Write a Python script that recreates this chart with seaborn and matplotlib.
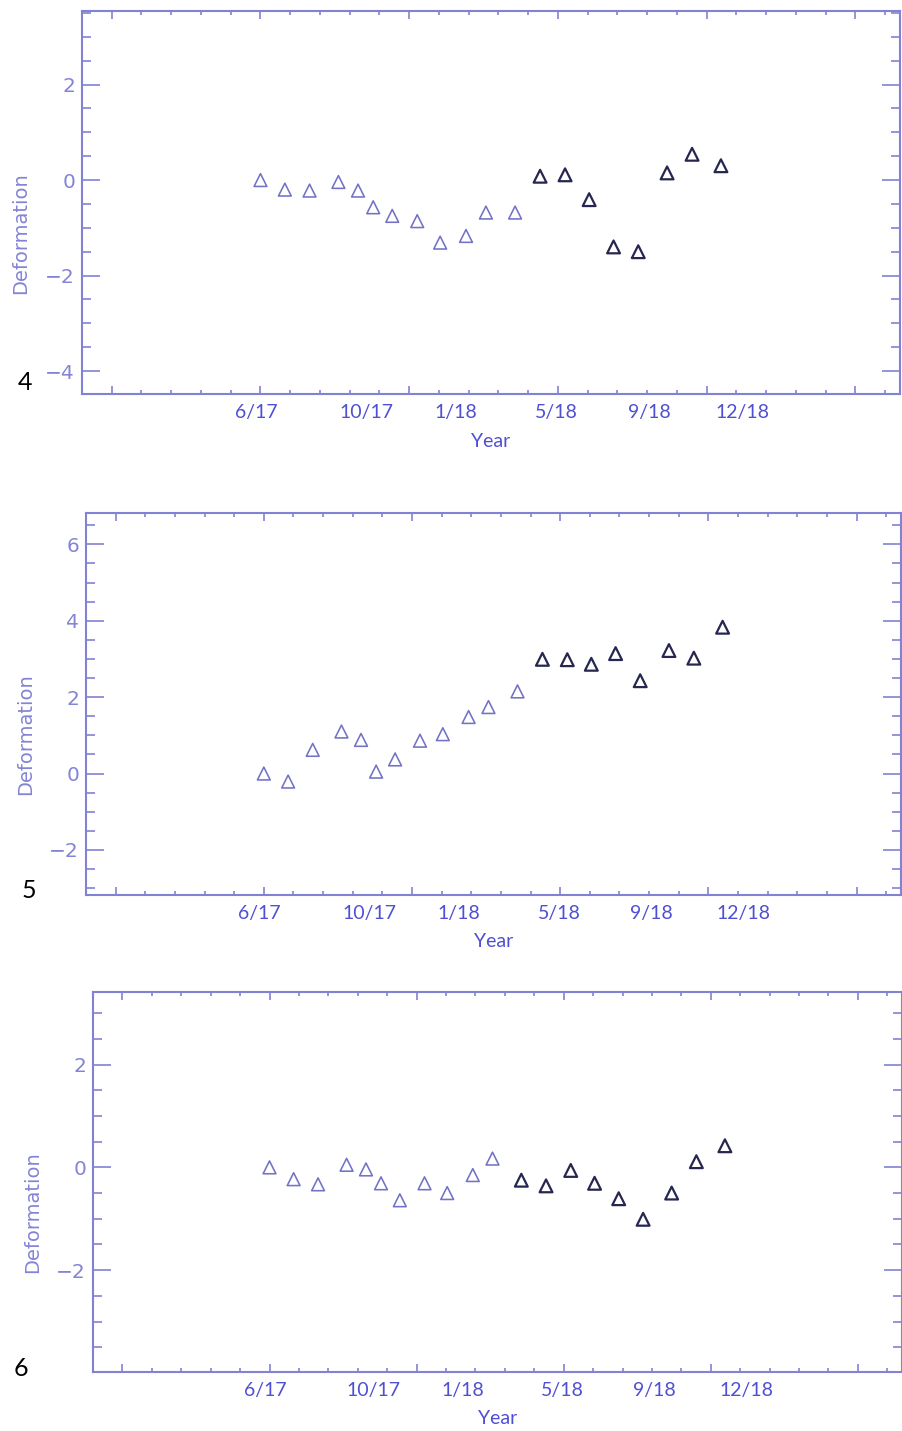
import numpy as np
import pandas as pd
import matplotlib
matplotlib.use("Agg")
import matplotlib.pyplot as plt
from matplotlib.ticker import MultipleLocator
import seaborn as sns

# Acquisition times, in months after June 2017 (shared by all three sites)
months = [0.0, 0.82, 1.65, 2.62, 3.28, 3.79, 4.43, 5.27, 6.04, 6.91,
          7.58, 8.56, 9.40, 10.24, 11.05, 11.87, 12.70, 13.67, 14.51, 15.48]

# Deformation series for sites 4, 5 and 6
deform_4 = [0.0, -0.20, -0.22, -0.04, -0.22, -0.57, -0.75, -0.86, -1.31, -1.17,
            -0.68, -0.68, 0.08, 0.11, -0.41, -1.40, -1.50, 0.15, 0.54, 0.30]
deform_5 = [0.0, -0.21, 0.62, 1.10, 0.88, 0.05, 0.37, 0.86, 1.03, 1.48,
            1.74, 2.15, 2.99, 2.98, 2.86, 3.14, 2.43, 3.22, 3.02, 3.83]
deform_6 = [0.0, -0.23, -0.33, 0.05, -0.04, -0.31, -0.64, -0.31, -0.50, -0.15,
            0.17, -0.25, -0.36, -0.06, -0.31, -0.61, -1.01, -0.50, 0.11, 0.42]

# How many acquisitions belong to the first (light) segment of each series
first_count = [12, 12, 11]

panel_names = ["4", "5", "6"]
date_labels = ["6/17", "10/17", "1/18", "5/18", "9/18", "12/18"]
date_label_months = [-0.15, 3.55, 6.58, 9.96, 13.07, 16.2]

# ---------------------------------------------------------------- styling
W, H = 903, 1431
AXIS_COLOR = "#8282d4"
TICKLABEL_COLOR = "#8484d6"
DATE_COLOR = "#4f4fd4"
LIGHT_TRI = "#7272c6"
DARK_TRI = "#262650"

# axes boxes in pixels: left, top, right, bottom
boxes = [(82, 11, 900, 394), (86, 513, 901, 895), (93, 992, 902, 1372)]
ylims = [(-4.48, 3.54), (-3.18, 6.82), (-3.98, 3.41)]
name_pos = [(25, 382), (29, 890), (21, 1369)]

sns.set_style("white")
plt.rcParams["font.family"] = ["DejaVu Sans"]

fig = plt.figure(figsize=(W / 100, H / 100), dpi=100)

series = [deform_4, deform_5, deform_6]
for i, vals in enumerate(series):
    l, t, r, b = boxes[i]
    ax = fig.add_axes([l / W, 1 - b / H, (r - l) / W, (b - t) / H])
    n1 = first_count[i]
    df = pd.DataFrame({
        "month": months,
        "deformation": vals,
        "segment": ["first"] * n1 + ["second"] * (len(vals) - n1),
    })
    for seg, col, lw in [("first", LIGHT_TRI, 1.15), ("second", DARK_TRI, 1.6)]:
        sub = df[df["segment"] == seg]
        sns.scatterplot(data=sub, x="month", y="deformation", ax=ax,
                        marker="^", s=85, color=col, facecolor="none",
                        edgecolor=col, linewidth=lw, legend=False, zorder=3)

    ax.set_xlim(-6, 21.5)
    ax.set_ylim(*ylims[i])
    ax.xaxis.set_major_locator(MultipleLocator(5))
    ax.xaxis.set_minor_locator(MultipleLocator(1))
    ax.yaxis.set_major_locator(MultipleLocator(2))
    ax.yaxis.set_minor_locator(MultipleLocator(0.5))
    ax.grid(False)
    for sp in ax.spines.values():
        sp.set_visible(True)
        sp.set_color(AXIS_COLOR)
        sp.set_linewidth(1.5)

    ax.tick_params(axis="both", which="both", direction="in", top=True,
                   bottom=True, left=True, right=True,
                   color=AXIS_COLOR, width=1.2)
    ax.tick_params(axis="x", which="major", length=5.5, labelbottom=False)
    ax.tick_params(axis="x", which="minor", length=3.1)
    ax.tick_params(axis="y", which="major", length=12.7, pad=5,
                   labelsize=14.5, labelcolor=TICKLABEL_COLOR)
    ax.tick_params(axis="y", which="minor", length=6.5)

    ax.set_ylabel("Deformation", fontsize=14, color=TICKLABEL_COLOR,
                  va="center")
    ax.yaxis.set_label_coords(-0.0745, 0.42)
    ax.set_xlabel("Year", fontsize=14, color=DATE_COLOR, va="center",
                  family=["Lato", "DejaVu Sans"])
    ax.xaxis.set_label_coords(0.5, -0.123)

    # date labels under the axis
    sec = ax.secondary_xaxis("bottom")
    sec.set_xticks(date_label_months, date_labels)
    sec.tick_params(length=0, pad=7.5, labelsize=14, labelcolor=DATE_COLOR)
    sec.spines["bottom"].set_visible(False)
    for lab in sec.get_xticklabels():
        lab.set_family(["Lato", "DejaVu Sans"])

    nx, ny = name_pos[i]
    fig.text(nx / W, 1 - ny / H, panel_names[i], fontsize=18, color="black",
             ha="center", va="center", family=["Lato", "DejaVu Sans"])

fig.savefig("out.png", dpi=100, facecolor="white")
